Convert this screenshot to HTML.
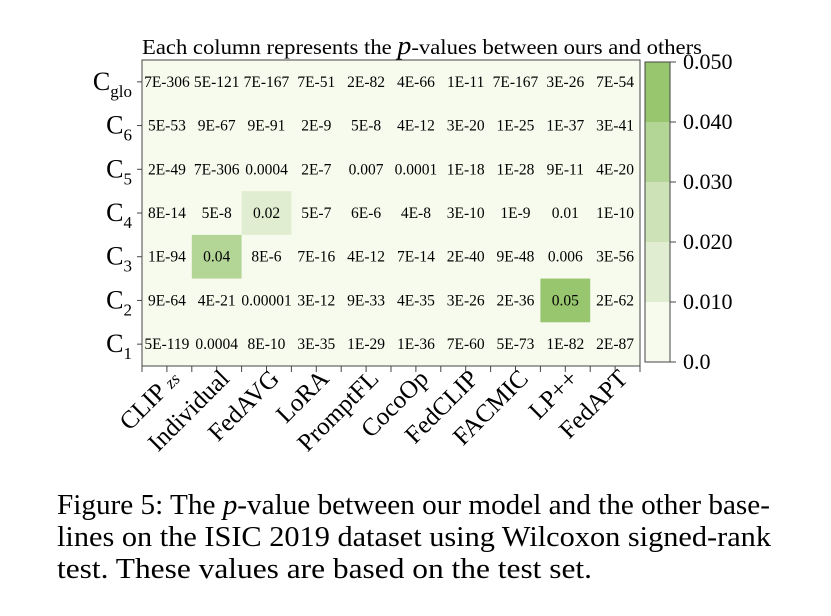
<!DOCTYPE html>
<html><head><meta charset="utf-8"><style>
body{margin:0;background:#fff;}
svg{display:block;font-family:"Liberation Serif",serif;}
</style></head><body>
<svg width="831" height="616" viewBox="0 0 831 616">
<g id="chart"></g>
<text x="57" y="514" font-size="28" textLength="713" lengthAdjust="spacingAndGlyphs">Figure 5: The <tspan font-style="italic">p</tspan>-value between our model and the other base-</text>
<text x="57" y="546" font-size="28" textLength="714" lengthAdjust="spacingAndGlyphs">lines on the ISIC 2019 dataset using Wilcoxon signed-rank</text>
<text x="57" y="578" font-size="28" textLength="535" lengthAdjust="spacingAndGlyphs">test. These values are based on the test set.</text>
</svg>
<script>
const categories = ["CLIP_zs","Individual","FedAVG","LoRA","PromptFL","CocoOp","FedCLIP","FACMIC","LP++","FedAPT"];
const rowLabels = ["glo","6","5","4","3","2","1"];
const rowGlo = ["7E-306","5E-121","7E-167","7E-51","2E-82","4E-66","1E-11","7E-167","3E-26","7E-54"];
const row6 = ["5E-53","9E-67","9E-91","2E-9","5E-8","4E-12","3E-20","1E-25","1E-37","3E-41"];
const row5 = ["2E-49","7E-306","0.0004","2E-7","0.007","0.0001","1E-18","1E-28","9E-11","4E-20"];
const row4 = ["8E-14","5E-8","0.02","5E-7","6E-6","4E-8","3E-10","1E-9","0.01","1E-10"];
const row3 = ["1E-94","0.04","8E-6","7E-16","4E-12","7E-14","2E-40","9E-48","0.006","3E-56"];
const row2 = ["9E-64","4E-21","0.00001","3E-12","9E-33","4E-35","3E-26","2E-36","0.05","2E-62"];
const row1 = ["5E-119","0.0004","8E-10","3E-35","1E-29","1E-36","7E-60","5E-73","1E-82","2E-87"];
const rows = [rowGlo,row6,row5,row4,row3,row2,row1];
const cbTicks = [0.0,0.010,0.020,0.030,0.040,0.050];
const cbTickLabels = ["0.0","0.010","0.020","0.030","0.040","0.050"];
const cbColors = ["#f7fbee","#e0edd0","#cde3b7","#b3d596","#98c66f"];

const NS="http://www.w3.org/2000/svg";
const g=document.getElementById('chart');
const L=142,R=640,T=60,B=366;
const cw=(R-L)/categories.length, rh=(B-T)/rows.length;
const xC=i=>L+cw*(i+0.5), yC=j=>T+rh*(j+0.5);
const cbL=645,cbR=670,cbT=62,cbB=362;
const cbY=v=>cbB-(v-0)/(0.05)*(cbB-cbT);
function colorIdx(v){return Math.max(0,Math.min(4,Math.ceil(v/0.01-1e-9)-1));}
function el(t,a,txt){const e=document.createElementNS(NS,t);for(const k in a)e.setAttribute(k,a[k]);if(txt!==undefined)e.textContent=txt;g.appendChild(e);return e;}

const bg=el('rect',{x:L,y:T,width:R-L,height:B-T,fill:cbColors[0]});


rows.forEach((row,j)=>row.forEach((s,i)=>{
  const v=parseFloat(s);
  const k=colorIdx(v);
  if(k>0){
    const r=el('rect',{x:L+cw*i,y:T+rh*j,width:cw,height:rh,fill:cbColors[k]});
    
    
  }
  const t=el('text',{x:xC(i),y:yC(j)+5,'font-size':15.5,'text-anchor':'middle'},s);
  
  
}));
const fr=el('rect',{x:L,y:T,width:R-L,height:B-T,fill:'none',stroke:'#444','stroke-width':1});


rowLabels.forEach((lab,j)=>{
  el('line',{x1:L-5,x2:L,y1:yC(j),y2:yC(j),stroke:'#444'});
  const t=el('text',{x:L-10,y:yC(j)+8,'font-size':26,'text-anchor':'end'});
  t.innerHTML='C<tspan font-size="17" dy="7">'+lab+'</tspan>';
  
  
});
for(let k=0;k<=categories.length*2;k++){const x=L+cw*k/2;el('line',{x1:x,x2:x,y1:B,y2:B+6,stroke:'#444'});}
categories.forEach((c,i)=>{
  const x=xC(i)+14,y=380;
  const t=el('text',{x:x,y:y,'font-size':25,'text-anchor':'end',transform:`rotate(-45 ${x} ${y})`});
  if(c==="CLIP_zs")t.innerHTML='CLIP <tspan font-size="17" font-style="italic">zs</tspan>';else t.textContent=c;
  
  
});
const title=el('text',{x:142,y:54,'font-size':21,textLength:560,lengthAdjust:'spacingAndGlyphs'});
title.innerHTML='Each column represents the <tspan font-style="italic" font-size="26">p</tspan>-values between ours and others';


cbColors.forEach((c,k)=>{
  const r=el('rect',{x:cbL,y:cbY(cbTicks[k+1]),width:cbR-cbL,height:cbY(cbTicks[k])-cbY(cbTicks[k+1]),fill:c});
  
  
});
el('rect',{x:cbL,y:cbT,width:cbR-cbL,height:cbB-cbT,fill:'none',stroke:'#444'});
cbTicks.forEach((v,k)=>{
  el('line',{x1:cbR,x2:cbR+6,y1:cbY(v),y2:cbY(v),stroke:'#444'});
  const t=el('text',{x:cbR+13,y:cbY(v)+7,'font-size':22},cbTickLabels[k]);
  
  
});
</script>
</body></html>
